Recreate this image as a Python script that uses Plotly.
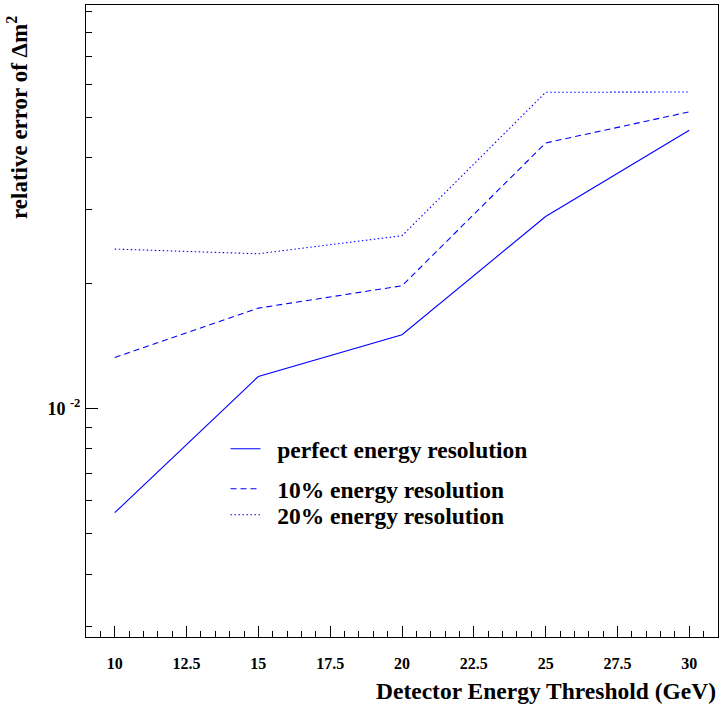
import plotly.graph_objects as go
import numpy as np

thresholds = [10, 15, 20, 25, 30]
err_perfect = [0.00562, 0.01194, 0.01504, 0.02893, 0.04660]
err_10pct = [0.01326, 0.01743, 0.01972, 0.04345, 0.05160]
err_20pct = [0.02416, 0.02354, 0.02601, 0.05750, 0.05760]
series_names = ["perfect energy resolution", "10% energy resolution", "20% energy resolution"]

x_range = [9, 31]
y_range = [0.002826, 0.0932]
y_major = [0.01]
y_major_text = ["<b>10 <sup>-2</sup></b>"]
y_minor = [0.003, 0.004, 0.005, 0.006, 0.007, 0.008, 0.009,
           0.02, 0.03, 0.04, 0.05, 0.06, 0.07, 0.08, 0.09]
x_major = [10, 12.5, 15, 17.5, 20, 22.5, 25, 27.5, 30]
x_major_text = ["<b>%g</b>" % v for v in x_major]

FONT = "Liberation Serif"
BLUE = "#0000ff"
NB = "\u00a0\u00a0"

dashes = ["solid", "6px,4px", "1.5px,2.5px"]
series = [err_perfect, err_10pct, err_20pct]
legend_ids = ["legend", "legend2", "legend3"]
legend_rows = [0.2975, 0.2342, 0.1930]

fig = go.Figure()
for name, vals, dash, lid in zip(series_names, series, dashes, legend_ids):
    fig.add_trace(go.Scatter(x=thresholds, y=vals, mode="lines", name=NB + "<b>" + name + "</b>",
                             line=dict(color=BLUE, width=1.1, dash=dash), legend=lid))

legend_style = dict(x=0.2207, xanchor="left", yanchor="middle", bgcolor="rgba(0,0,0,0)",
                    font=dict(family=FONT, size=23.5, color="black"), itemwidth=30)

fig.update_layout(
    width=720, height=707,
    margin=dict(l=86, r=2, t=5, b=70),
    paper_bgcolor="white", plot_bgcolor="white",
    font=dict(family=FONT, color="black", size=14),
    showlegend=True,
    legend=dict(y=legend_rows[0], **legend_style),
    legend2=dict(y=legend_rows[1], **legend_style),
    legend3=dict(y=legend_rows[2], **legend_style),
    xaxis=dict(range=x_range, showgrid=False, zeroline=False,
               showline=True, linecolor="black", linewidth=1, mirror=True,
               tickmode="array", tickvals=x_major, ticktext=x_major_text,
               ticks="inside", ticklen=11, tickcolor="black", tickwidth=1,
               ticklabelstandoff=12,
               tickfont=dict(family=FONT, size=16, color="black"),
               minor=dict(tickmode="linear", tick0=9, dtick=0.5, ticks="inside", ticklen=6,
                          tickcolor="black", tickwidth=1, showgrid=False)),
    yaxis=dict(type="log", range=[np.log10(y_range[0]), np.log10(y_range[1])],
               showgrid=False, zeroline=False,
               showline=True, linecolor="black", linewidth=1, mirror=True,
               tickmode="array", tickvals=y_major, ticktext=y_major_text,
               ticks="inside", ticklen=12, tickcolor="black", tickwidth=1,
               ticklabelstandoff=1,
               tickfont=dict(family=FONT, size=18, color="black"),
               minor=dict(tickmode="array", tickvals=y_minor, ticks="inside", ticklen=6,
                          tickcolor="black", tickwidth=1, showgrid=False)),
    annotations=[
        dict(text="<b>Detector Energy Threshold (GeV)</b>", xref="paper", yref="paper",
             x=1, y=0, xanchor="right", yanchor="top", yshift=-39, showarrow=False,
             font=dict(family=FONT, size=23.5, color="black")),
        dict(text="<b>relative error of Δm<sup>2</sup></b>", xref="paper", yref="paper",
             x=0, y=1, xanchor="right", yanchor="top", xshift=-52, yshift=-9, textangle=-90,
             showarrow=False, font=dict(family=FONT, size=23, color="black")),
    ],
)

fig.write_html("out.html")
